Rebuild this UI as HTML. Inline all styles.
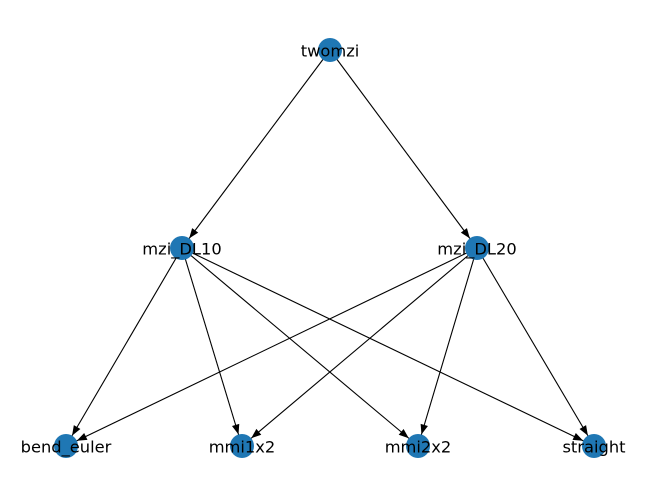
<!DOCTYPE html>
<html><head><meta charset="utf-8"><style>
html,body{margin:0;padding:0;background:#fff;}
svg{display:block;}
text{font-family:"DejaVu Sans","Liberation Sans",sans-serif;font-size:16.3px;fill:#000;}
</style></head><body>
<svg width="660" height="499" viewBox="0 0 660 499" xmlns="http://www.w3.org/2000/svg">
<defs>
<marker id="a" markerUnits="userSpaceOnUse" viewBox="-30 -6 30 12" refX="0" refY="0" markerWidth="30" markerHeight="12" orient="auto">
<path d="M-12,0 L-22,-3.8 L-22,3.8 z" fill="#000"/>
</marker>
</defs>
<g stroke="#000" stroke-width="1.1" marker-end="url(#a)">
<line x1="330" y1="50" x2="182" y2="248"/>
<line x1="330" y1="50" x2="477" y2="248"/>
<line x1="182" y1="248" x2="66" y2="446"/>
<line x1="182" y1="248" x2="242" y2="446"/>
<line x1="182" y1="248" x2="418" y2="446"/>
<line x1="182" y1="248" x2="594" y2="446"/>
<line x1="477" y1="248" x2="66" y2="446"/>
<line x1="477" y1="248" x2="242" y2="446"/>
<line x1="477" y1="248" x2="418" y2="446"/>
<line x1="477" y1="248" x2="594" y2="446"/>
</g>
<g fill="#1f77b4">
<circle cx="330" cy="50" r="12"/>
<circle cx="182" cy="248" r="12"/>
<circle cx="477" cy="248" r="12"/>
<circle cx="66" cy="446" r="12"/>
<circle cx="242" cy="446" r="12"/>
<circle cx="418" cy="446" r="12"/>
<circle cx="594" cy="446" r="12"/>
</g>
<g text-anchor="middle" dominant-baseline="central">
<text x="330" y="51">twomzi</text>
<text x="182" y="249">mzi_DL10</text>
<text x="477" y="249">mzi_DL20</text>
<text x="66" y="447">bend_euler</text>
<text x="242" y="447">mmi1x2</text>
<text x="418" y="447">mmi2x2</text>
<text x="594" y="447">straight</text>
</g>
</svg>
</body></html>
